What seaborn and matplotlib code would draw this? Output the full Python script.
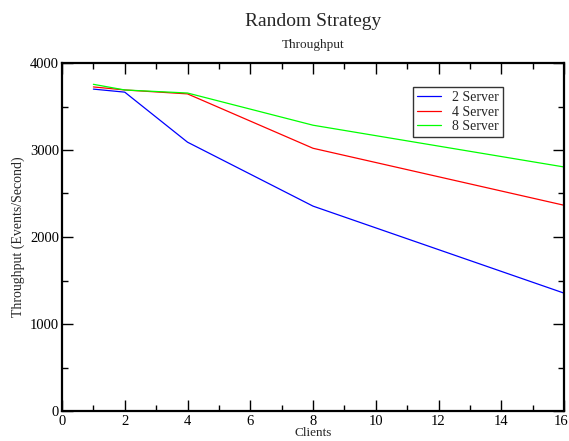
import matplotlib
matplotlib.use("Agg")
import matplotlib.pyplot as plt
from matplotlib.ticker import MultipleLocator
import matplotlib.transforms as mtransforms
import seaborn as sns
import pandas as pd

clients = [1, 2, 4, 8, 16]
server2 = [3700, 3665, 3090, 2355, 1355]
server4 = [3725, 3690, 3645, 3020, 2365]
server8 = [3755, 3690, 3655, 3285, 2805]
series_names = ["2 Server", "4 Server", "8 Server"]
colors = ["#0000ff", "#ff0000", "#00ff00"]

rows = []
for name, vals in zip(series_names, [server2, server4, server8]):
    for c, v in zip(clients, vals):
        rows.append({"Clients": c, "Throughput": v, "Series": name})
df = pd.DataFrame(rows)

sns.set_style("white")
plt.rcParams["font.family"] = ["Liberation Serif", "DejaVu Serif"]

fig = plt.figure(figsize=(5.69, 4.41), dpi=100)
ax = fig.add_axes([62/569, 1-411/441, (564-62)/569, (411-63)/441])

sns.lineplot(data=df, x="Clients", y="Throughput", hue="Series",
             palette=colors, hue_order=series_names, linewidth=0.9, ax=ax,
             legend=True)

ax.set_xlim(0, 16)
ax.set_ylim(0, 4000)
ax.xaxis.set_major_locator(MultipleLocator(2))
ax.xaxis.set_minor_locator(MultipleLocator(1))
ax.yaxis.set_major_locator(MultipleLocator(1000))
ax.yaxis.set_minor_locator(MultipleLocator(500))
ax.tick_params(which="both", direction="in", top=True, right=True,
               bottom=True, left=True, labelsize=10.5, colors="black")
ax.tick_params(which="major", length=8, width=1)
ax.tick_params(which="minor", length=4, width=1)
ax.tick_params(axis="x", pad=3)
ax.tick_params(axis="y", pad=2)
for s in ax.spines.values():
    s.set_linewidth(1.6)
    s.set_color("black")

ax.set_xlabel("Clients", fontsize=9.5, labelpad=-0.5)
ax.set_ylabel("Throughput (Events/Second)", fontsize=10, labelpad=4)

fig.canvas.draw()
xlabels = ax.get_xticklabels()
last = [t for t in xlabels if t.get_text() == "16"]
for t in last:
    t.set_transform(t.get_transform() + mtransforms.ScaledTranslation(-3/100, 0, fig.dpi_scale_trans))

fig.text(0.5 + 0.05, 1 - 22/441, "Random Strategy", ha="center", va="center", fontsize=14)
fig.text(0.5 + 0.05, 1 - 45/441, "Throughput", ha="center", va="center", fontsize=9.5)

leg = ax.legend(loc="upper left", bbox_to_anchor=((413-62)/(564-62), 1-(87-63)/(411-63)),
                frameon=True, fancybox=False, fontsize=10, handlelength=1.7,
                borderpad=0.3, labelspacing=0.1, handletextpad=0.8, borderaxespad=0)
leg.get_frame().set_edgecolor("black")
leg.get_frame().set_linewidth(1.0)
for line in leg.get_lines():
    line.set_linewidth(0.9)

fig.savefig("out.png", dpi=100)
